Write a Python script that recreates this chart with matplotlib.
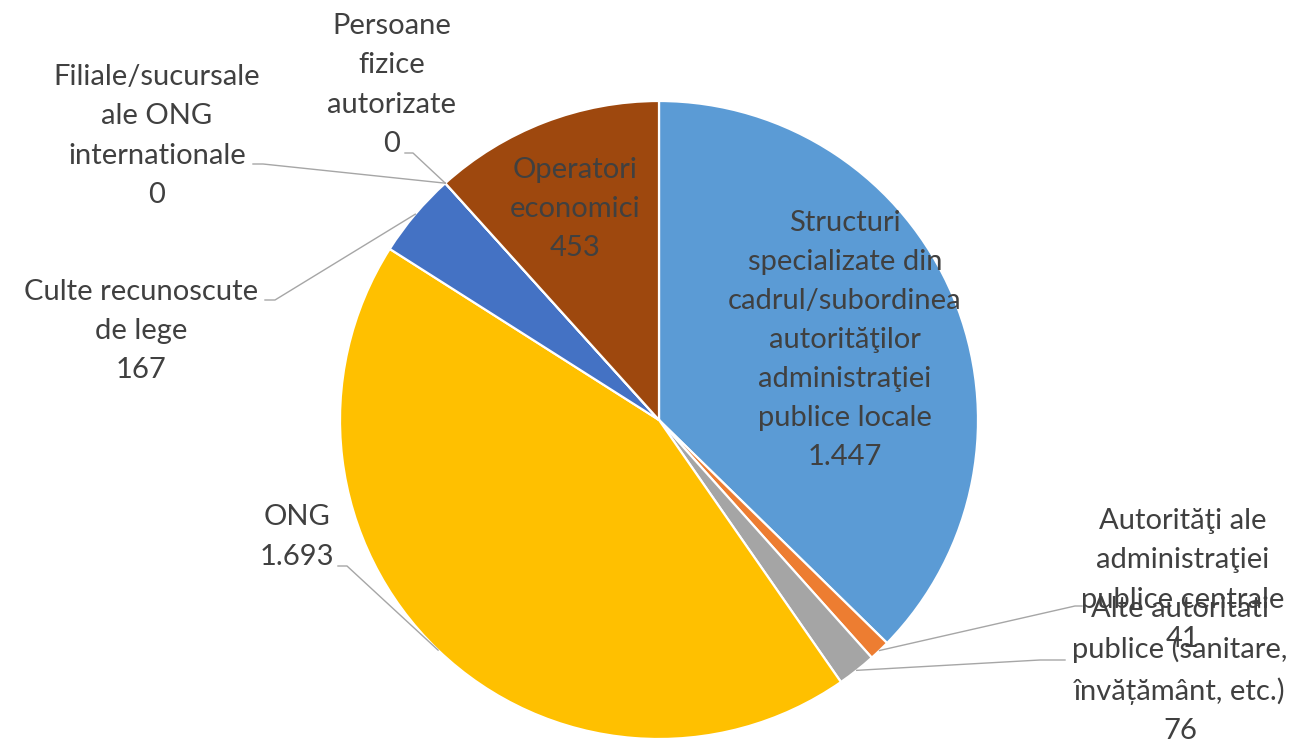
import numpy as np
import matplotlib

matplotlib.use("Agg")
import matplotlib.pyplot as plt

# date din grafic
categories = [
    "Structuri\nspecializate din\ncadrul/subordinea\nautorităţilor\nadministraţiei\npublice locale",
    "Autorităţi ale\nadministraţiei\npublice centrale",
    "Alte autoritati\npublice (sanitare,\nînvățământ, etc.)",
    "ONG",
    "Culte recunoscute\nde lege",
    "Filiale/sucursale\nale ONG\ninternationale",
    "Persoane\nfizice\nautorizate",
    "Operatori\neconomici",
]
values = [1447, 41, 76, 1693, 167, 0, 0, 453]
colors = ["#5B9BD5", "#ED7D31", "#A5A5A5", "#FFC000",
          "#4472C4", "#70AD47", "#255E91", "#9E480E"]

W, H = 1307, 745
TEXT = "#404040"
LEAD = "#A6A6A6"
FONT = "Lato"
FS = 21

plt.rcParams["font.family"] = [FONT, "DejaVu Sans"]

fig = plt.figure(figsize=(W / 100, H / 100), dpi=100)
ax = fig.add_axes([0, 0, 1, 1])


def px(x, y):
    return x, H - y


cx, cy = px(659, 420)
R = 319
wedges, _ = ax.pie(values, colors=colors, startangle=90, counterclock=False,
                   center=(cx, cy), radius=R, frame=True,
                   wedgeprops=dict(edgecolor="white", linewidth=1.6))
ax.set_xlim(0, W)
ax.set_ylim(0, H)
ax.set_aspect("equal")
ax.axis("off")

# pozitii etichete (centru bloc text) si puncte de cot pentru liniile de legatura
label_pos = [(845, 340), (1183, 580), (1180, 670), (297, 537),
             (141, 331), (157, 136), (392, 85), (575, 209)]
leaders = [None, ((1075, 606), (1082, 606)), ((1040, 660), (1065, 660)),
           ((347, 566), (338, 566)), ((275, 300), (265, 300)),
           ((263, 164), (253, 164)), ((413, 153), (405, 153)), None]

for w, cat, val, pos, lead in zip(wedges, categories, values, label_pos, leaders):
    num = f"{val:,}".replace(",", ".")
    ax.text(*px(*pos), f"{cat}\n{num}", ha="center", va="center", fontsize=FS,
            color=TEXT, linespacing=1.62, zorder=5)
    if lead is not None:
        mid = np.deg2rad((w.theta1 + w.theta2) / 2)
        sx, sy = cx + R * np.cos(mid), cy + R * np.sin(mid)
        (ex, ey), (fx, fy) = px(*lead[0]), px(*lead[1])
        ax.plot([sx, ex, fx], [sy, ey, fy], color=LEAD, lw=1.0, zorder=4)

fig.savefig("out.png", dpi=100, facecolor="white")
